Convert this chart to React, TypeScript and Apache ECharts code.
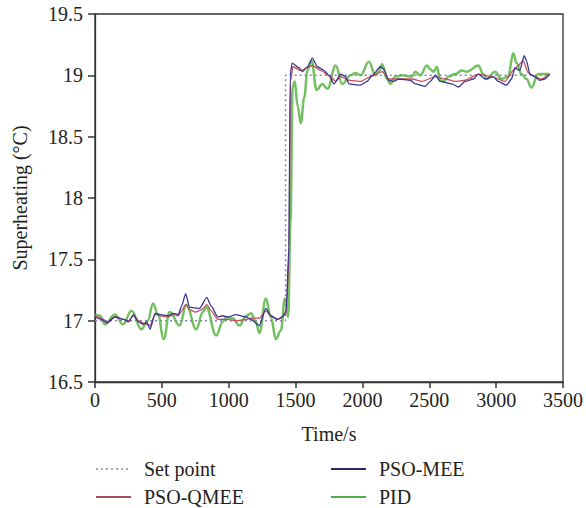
import React, { useEffect, useRef } from "react";
import * as echarts from "echarts";

const timeTicks = [0, 500, 1000, 1500, 2000, 2500, 3000, 3500];
const tempTicks = [16.5, 17, 17.5, 18, 18.5, 19, 19.5];

const setPoint: [number, number][] = [
  [0, 17], [1425, 17], [1425, 19], [3400, 19],
];

const psoMee: [number, number][] = [
  [0, 17.03], [50, 17.01], [89, 16.98], [149, 17.03], [214, 17.01], [251, 16.99], [288, 17.05],
  [325, 16.99], [362, 16.97], [387, 16.99], [412, 16.93], [449, 17.06], [486, 17.05], [549, 17.04],
  [586, 17.06], [623, 17.05], [648, 17.12], [678, 17.22], [707, 17.11], [782, 17.1], [836, 17.19],
  [869, 17.12], [918, 17.03], [955, 17.04], [993, 17.03], [1055, 17.05], [1130, 17.03], [1167, 17.01],
  [1229, 16.96], [1278, 17.1], [1315, 17.04], [1365, 17.01], [1402, 17.03], [1430, 17.08], [1450, 17.6],
  [1460, 19.0], [1474, 19.1], [1527, 19.06], [1551, 19.03], [1589, 19.07], [1626, 19.14], [1663, 19.07],
  [1713, 19.04], [1750, 19.0], [1787, 18.93], [1837, 19.01], [1874, 18.99], [1899, 18.93], [1986, 18.92],
  [2035, 18.95], [2073, 19.0], [2135, 19.07], [2160, 19.05], [2197, 18.96], [2234, 18.95], [2271, 18.97],
  [2358, 18.96], [2395, 18.93], [2470, 18.91], [2507, 18.95], [2545, 19.0], [2582, 18.95], [2668, 18.93],
  [2718, 18.905], [2768, 18.95], [2830, 18.97], [2867, 19.01], [2917, 18.97], [2979, 18.99], [3016, 18.95],
  [3078, 18.92], [3115, 18.97], [3140, 19.06], [3177, 19.04], [3210, 19.16], [3227, 19.12], [3252, 19.01],
  [3289, 18.99], [3327, 18.96], [3364, 18.97], [3400, 19.01],
];

const psoQmee: [number, number][] = [
  [0, 17.04], [50, 17.02], [89, 16.99], [149, 17.03], [214, 17.01], [251, 17.0], [288, 17.04],
  [325, 17.0], [362, 16.98], [412, 16.96], [449, 17.05], [486, 17.04], [549, 17.03], [586, 17.05],
  [623, 17.04], [648, 17.08], [678, 17.13], [707, 17.09], [750, 17.07], [800, 17.09], [836, 17.13],
  [869, 17.08], [918, 17.01], [993, 17.01], [1055, 17.0], [1130, 17.01], [1167, 17.02], [1229, 17.02],
  [1278, 17.08], [1315, 17.04], [1365, 17.01], [1402, 17.03], [1430, 17.06], [1450, 17.5], [1462, 18.95],
  [1480, 19.07], [1539, 19.04], [1626, 19.08], [1688, 19.04], [1762, 18.99], [1800, 18.95], [1837, 18.99],
  [1899, 18.96], [1986, 18.95], [2060, 18.99], [2147, 19.03], [2197, 18.97], [2271, 18.97], [2370, 18.97],
  [2445, 18.95], [2545, 18.99], [2619, 18.97], [2693, 18.95], [2768, 18.96], [2867, 19.01], [2966, 18.99],
  [3066, 18.95], [3128, 19.04], [3165, 19.08], [3202, 19.12], [3240, 19.02], [3289, 18.99], [3339, 18.97],
  [3400, 19.01],
];

const pid: [number, number][] = [
  [0, 17.05], [37, 17.04], [74, 16.97], [149, 17.05], [209, 16.97], [273, 17.08], [347, 16.93],
  [395, 17.0], [434, 17.14], [471, 17.05], [514, 16.85], [558, 17.07], [633, 16.96], [683, 17.13],
  [757, 16.93], [807, 17.07], [832, 17.11], [906, 16.88], [955, 16.99], [980, 17.03], [1030, 17.02],
  [1080, 16.96], [1130, 17.04], [1167, 17.06], [1200, 17.0], [1229, 16.9], [1278, 17.18], [1315, 17.03],
  [1353, 16.85], [1390, 16.92], [1420, 17.18], [1445, 17.03], [1462, 17.8], [1478, 18.9], [1494, 18.95],
  [1515, 18.75], [1539, 18.61], [1565, 18.82], [1589, 19.04], [1619, 19.12], [1658, 18.88], [1700, 18.93],
  [1738, 18.89], [1800, 19.08], [1849, 18.93], [1911, 19.0], [1950, 19.02], [1986, 19.0], [2048, 19.11],
  [2098, 19.0], [2122, 19.03], [2147, 19.09], [2184, 18.97], [2209, 18.93], [2247, 18.99], [2296, 19.0],
  [2370, 18.99], [2395, 19.03], [2433, 19.0], [2482, 19.08], [2507, 19.05], [2532, 19.03], [2557, 19.07],
  [2582, 18.96], [2606, 18.95], [2644, 18.99], [2693, 19.01], [2743, 19.04], [2780, 19.03], [2867, 19.08],
  [2904, 19.01], [2929, 18.97], [2991, 19.03], [3041, 18.97], [3090, 18.99], [3128, 19.18], [3153, 19.1],
  [3190, 19.01], [3227, 18.97], [3264, 18.9], [3314, 19.01], [3400, 19.01],
];

const FONT = "Liberation Serif";
const TEXT = "#231f20";
const AXIS = "#333333";

export default function App() {
  const ref = useRef<HTMLDivElement>(null);
  useEffect(() => {
    if (!ref.current) return;
    const chart = echarts.init(ref.current, undefined, { renderer: "svg" });
    const legendText = { fontFamily: FONT, fontSize: 20, color: TEXT, padding: [0, 0, 0, 8], lineHeight: 18 };
    const hiddenSymbol = { color: "transparent", borderColor: "transparent", borderWidth: 0, opacity: 0 };
    const legendBase = {
      orient: "vertical", top: 459, itemWidth: 35, itemHeight: 14, itemGap: 8, padding: 0,
      textStyle: legendText, itemStyle: hiddenSymbol,
    };
    chart.setOption({
      animation: false,
      backgroundColor: "#ffffff",
      textStyle: { fontFamily: FONT },
      grid: {
        left: 95, right: 21, top: 14, bottom: 126,
        show: true, borderColor: AXIS, borderWidth: 1.3, backgroundColor: "transparent",
      },
      xAxis: {
        type: "value", min: timeTicks[0], max: timeTicks[timeTicks.length - 1], interval: 500,
        name: "Time/s", nameLocation: "middle", nameGap: 42,
        nameTextStyle: { fontFamily: FONT, fontSize: 20, color: TEXT },
        axisLine: { show: true, lineStyle: { color: AXIS, width: 1.3 } },
        axisTick: { show: true, length: 6, lineStyle: { color: AXIS, width: 1.5 } },
        axisLabel: { margin: 8, fontFamily: FONT, fontSize: 20, color: TEXT, formatter: (v: number) => String(v) },
        splitLine: { show: false },
      },
      yAxis: {
        type: "value", min: tempTicks[0], max: tempTicks[tempTicks.length - 1], interval: 0.5,
        name: "Superheating (°C)", nameLocation: "middle", nameGap: 65,
        nameTextStyle: { fontFamily: FONT, fontSize: 20, color: TEXT },
        axisLine: { show: true, lineStyle: { color: AXIS, width: 1.3 } },
        axisTick: { show: true, length: 7, lineStyle: { color: AXIS, width: 1.5 } },
        axisLabel: { margin: 12, fontFamily: FONT, fontSize: 20, color: TEXT, formatter: (v: number) => String(v) },
        splitLine: { show: false },
      },
      legend: [
        {
          ...legendBase, left: 95,
          data: [
            { name: "Set point", lineStyle: { color: "#555555", type: [2, 3], width: 1 } },
            { name: "PSO-QMEE", lineStyle: { color: "#a84d5c", width: 2 } },
          ],
        },
        {
          ...legendBase, left: 330,
          data: [
            { name: "PSO-MEE", lineStyle: { color: "#2b2a5e", width: 2 } },
            { name: "PID", lineStyle: { color: "#4caf50", width: 2, opacity: 1 } },
          ],
        },
      ],
      series: [
        {
          name: "Set point", type: "line", data: setPoint, symbol: "none",
          lineStyle: { color: "#8a80c0", width: 1.5, type: [2, 3] }, itemStyle: { color: "#555555" },
        },
        {
          name: "PID", type: "line", data: pid, symbol: "none", smooth: 0.4, smoothMonotone: "x",
          lineStyle: { color: "#5ab545", width: 2.5, opacity: 0.85 }, itemStyle: { color: "#4caf50" },
        },
        {
          name: "PSO-QMEE", type: "line", data: psoQmee, symbol: "none", smooth: 0.2, smoothMonotone: "x",
          lineStyle: { color: "#c4505c", width: 1.3 }, itemStyle: { color: "#a84d5c" },
        },
        {
          name: "PSO-MEE", type: "line", data: psoMee, symbol: "none", smooth: 0.2, smoothMonotone: "x",
          lineStyle: { color: "#3a3594", width: 1.3 }, itemStyle: { color: "#2b2a5e" },
        },
      ],
    });
    return () => chart.dispose();
  }, []);
  return (
    <div
      ref={ref}
      style={{ position: "fixed", left: 0, top: 0, width: 586, height: 508, background: "#fff" }}
    />
  );
}
